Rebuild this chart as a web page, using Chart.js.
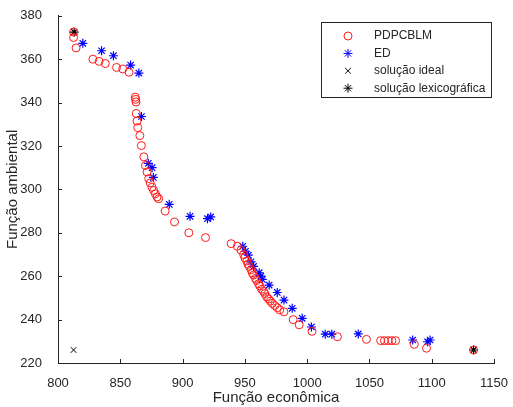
<!DOCTYPE html>
<html>
<head>
    <title>Fronteira de Pareto</title>
    <script src="https://cdnjs.cloudflare.com/ajax/libs/Chart.js/4.4.0/chart.umd.min.js"></script>
    <style>
        body { margin: 0; background: #fff; }
        #chart { display: block; }
    </style>
</head>
<body>
    <canvas id="chart" width="513" height="407"></canvas>

    <script>
        // axis ticks
        const xTicks = [800, 850, 900, 950, 1000, 1050, 1100, 1150];
        const yTicks = [220, 240, 260, 280, 300, 320, 340, 360, 380];

        // PDPCBLM (red circles)
        const pdpcX = [812.5, 812.5, 814.5, 828, 833, 838, 847, 852, 857,
            862, 862.3, 862.6, 862.8, 863.4, 864, 865.7, 866.9, 868.9, 870.2, 871.5,
            872.8, 874, 875.5, 876.8, 878.2, 879.5, 880.8, 886, 893.5, 905, 918.4,
            939, 944, 946.9,
            949, 950, 951.5, 952.5, 953.5, 955, 956, 957, 958.5, 959.5, 961, 962,
            963.5, 965, 966, 967.5, 969, 970.5, 972, 974, 976, 978,
            981.4, 988.8, 993.6, 1003.9, 1024.3, 1047.6,
            1059, 1062, 1065, 1068, 1071, 1086, 1095.8, 1133.6];
        const pdpcY = [372.5, 370, 365.2, 360, 359, 358, 356.2, 355.5, 354,
            342.5, 341.5, 340.3, 335, 331.5, 328.5, 324.8, 320.2, 315, 311, 308,
            305, 303, 301, 299.5, 298, 296.5, 295.7, 290, 285, 280, 277.8,
            275, 273.8, 272,
            270, 268.5, 267, 265.5, 264.5, 263, 261.5, 260.5, 259, 258, 256.5, 255.5,
            254, 253, 252, 250.5, 249.5, 248.5, 247.5, 246.5, 245.5, 244.5,
            243.6, 240, 237.6, 234.6, 232.1, 230.9,
            230.3, 230.3, 230.3, 230.3, 230.3, 228.6, 226.8, 226];

        // ED (blue asterisks)
        const edX = [819.9, 835, 844.5, 858.3, 864.9, 867, 872.5, 875.5, 876.5,
            889.3, 906, 920, 922.6, 948.3, 950.5, 952.8, 954.9, 957, 961.5, 962.8,
            964, 969.5, 976, 981.4, 988, 996, 1003.4, 1014.5, 1019.8, 1041,
            1084.7, 1096.6, 1098.7];
        const edY = [367.3, 363.9, 361.6, 357.3, 353.6, 333.6, 312, 310, 305.5,
            293.1, 287.6, 286.5, 287.3, 273.8, 271.5, 269.7, 266.6, 264.5, 261.6, 260,
            258.5, 255.9, 252.5, 249, 245.2, 240.6, 236.6, 233.3, 233.3, 233.4,
            230.6, 229.8, 230.6];

        // ideal and lexicographic solutions
        const idealX = [812.5];
        const idealY = [226];
        const lexX = [813, 1133.6];
        const lexY = [372.5, 226];

        const toPoints = (xs, ys) => xs.map((x, i) => ({ x: x, y: ys[i] }));

        const axisColor = '#262626';
        const font = 'Liberation Sans, Arial, sans-serif';

        function marker(ctx, style, x, y, r) {
            ctx.beginPath();
            if (style === 'circle') {
                ctx.arc(x, y, r, 0, Math.PI * 2);
            } else {
                const d = style === 'star' ? [0, 45, 90, 135] : [45, 135];
                d.forEach(a => {
                    const t = a * Math.PI / 180;
                    ctx.moveTo(x - Math.cos(t) * r, y - Math.sin(t) * r);
                    ctx.lineTo(x + Math.cos(t) * r, y + Math.sin(t) * r);
                });
            }
            ctx.stroke();
        }

        // inward tick marks and boxed legend, MATLAB style
        const decor = {
            id: 'decor',
            afterDraw(chart) {
                const ctx = chart.ctx, a = chart.chartArea;
                const xs = chart.scales.x, ys = chart.scales.y;
                ctx.save();
                ctx.strokeStyle = axisColor;
                ctx.lineWidth = 1;
                ctx.beginPath();
                xTicks.forEach(v => {
                    const p = Math.round(xs.getPixelForValue(v)) + 0.5;
                    ctx.moveTo(p, a.bottom);
                    ctx.lineTo(p, a.bottom - 4);
                });
                yTicks.forEach(v => {
                    const p = Math.round(ys.getPixelForValue(v)) + 0.5;
                    ctx.moveTo(a.left, p);
                    ctx.lineTo(a.left + 4, p);
                });
                ctx.stroke();

                // legend
                const bx = 321.5, by = 22.5, bw = 170, bh = 75;
                ctx.fillStyle = '#fff';
                ctx.fillRect(bx, by, bw, bh);
                ctx.strokeStyle = axisColor;
                ctx.strokeRect(bx, by, bw, bh);
                ctx.font = '12px ' + font;
                ctx.textBaseline = 'middle';
                chart.data.datasets.forEach((ds, i) => {
                    const y = 36 + i * 17.4;
                    ctx.strokeStyle = ds.borderColor;
                    marker(ctx, ds.pointStyle, 348, y, ds.pointRadius);
                    ctx.fillStyle = axisColor;
                    ctx.fillText(ds.label, 374, y);
                });
                ctx.restore();
            }
        };

        new Chart(document.getElementById('chart'), {
            type: 'scatter',
            data: {
                datasets: [
                    { label: 'PDPCBLM', data: toPoints(pdpcX, pdpcY), pointStyle: 'circle',
                      pointRadius: 4, borderColor: '#ff1a1a', backgroundColor: 'rgba(0,0,0,0)', borderWidth: 1 },
                    { label: 'ED', data: toPoints(edX, edY), pointStyle: 'star',
                      pointRadius: 4.5, borderColor: '#0000ff', backgroundColor: 'rgba(0,0,0,0)', borderWidth: 1.2 },
                    { label: 'solução ideal', data: toPoints(idealX, idealY), pointStyle: 'crossRot',
                      pointRadius: 4, borderColor: '#000', backgroundColor: 'rgba(0,0,0,0)', borderWidth: 1 },
                    { label: 'solução lexicográfica', data: toPoints(lexX, lexY), pointStyle: 'star',
                      pointRadius: 4.5, borderColor: '#000', backgroundColor: 'rgba(0,0,0,0)', borderWidth: 1.2 }
                ]
            },
            options: {
                responsive: false,
                animation: false,
                layout: { padding: { top: 15, right: 14, left: 0, bottom: 0 } },
                plugins: { legend: { display: false }, tooltip: { enabled: false } },
                scales: {
                    x: {
                        type: 'linear', min: 800, max: 1150,
                        afterBuildTicks: s => { s.ticks = xTicks.map(v => ({ value: v })); },
                        afterFit: s => { s.height = 44; },
                        grid: { display: false },
                        border: { display: true, color: axisColor, width: 1 },
                        ticks: { color: axisColor, font: { family: font, size: 13 }, padding: 5,
                                 maxRotation: 0, callback: v => String(v) },
                        title: { display: true, text: 'Função econômica', color: axisColor,
                                 font: { family: font, size: 15 }, padding: { top: 0, bottom: 0 } }
                    },
                    y: {
                        type: 'linear', min: 220, max: 380,
                        afterBuildTicks: s => { s.ticks = yTicks.map(v => ({ value: v })); },
                        afterFit: s => { s.width = 58; },
                        grid: { display: false },
                        border: { display: true, color: axisColor, width: 1 },
                        ticks: { color: axisColor, font: { family: font, size: 13 }, padding: 8,
                                 callback: v => String(v) },
                        title: { display: true, text: 'Função ambiental', color: axisColor,
                                 font: { family: font, size: 15 }, padding: { top: 4, bottom: 0 } }
                    }
                }
            },
            plugins: [decor]
        });
    </script>
</body>
</html>
